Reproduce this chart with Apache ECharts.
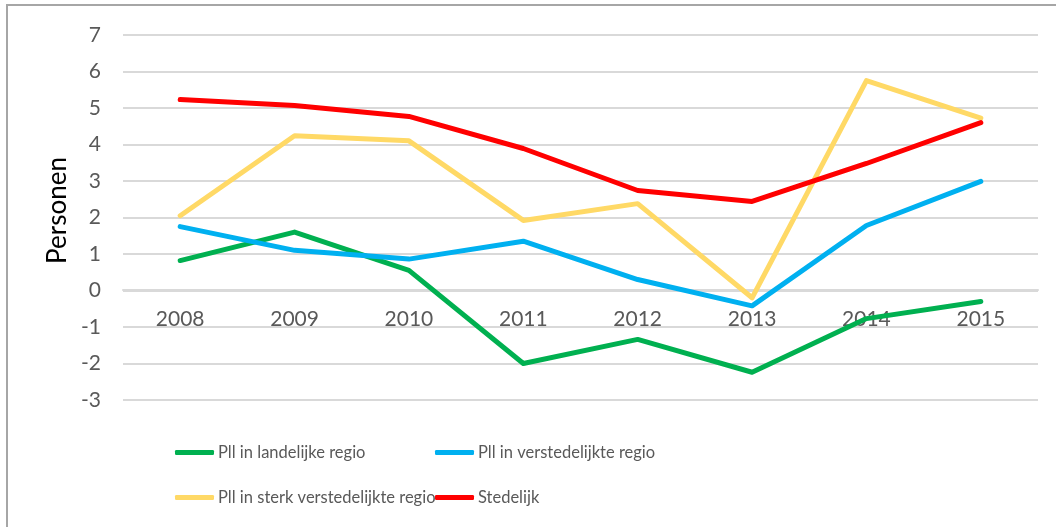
<!DOCTYPE html>
<html>
<head>
<meta charset="utf-8">
<script src="https://cdn.jsdelivr.net/npm/echarts@6/dist/echarts.min.js"></script>
<style>
    html, body { margin: 0; padding: 0; background: #fff; }
    #chart { width: 1056px; height: 527px; }
</style>
</head>
<body>
<div id="chart"></div>
<script>

const years = ['2008', '2009', '2010', '2011', '2012', '2013', '2014', '2015'];

const landelijk = [0.82, 1.6, 0.55, -2.0, -1.34, -2.24, -0.77, -0.3];
const verstedelijkt = [1.75, 1.1, 0.86, 1.35, 0.3, -0.42, 1.78, 2.99];
const sterkVerstedelijkt = [2.05, 4.24, 4.1, 1.92, 2.38, -0.2, 5.75, 4.72];
const stedelijk = [5.23, 5.07, 4.77, 3.89, 2.74, 2.44, 3.48, 4.6];

const seriesNames = [
    'Pll in landelijke regio',
    'Pll in verstedelijkte regio',
    'Pll in sterk verstedelijkte regio',
    'Stedelijk',
];
const colors = ['#00B050', '#00B0F0', '#FFD966', '#FF0000'];

const font = 'Lato, "Open Sans", sans-serif';

const legendAt = (name, left, top) => ({
    data: [name],
    left: left,
    top: top,
    padding: 0,
    icon: 'roundRect',
    itemWidth: 39,
    itemHeight: 5,
    textStyle: { color: '#595959', fontSize: 16.5, fontFamily: font, padding: [0, 0, 0, -1] },
});

const chart = echarts.init(document.getElementById('chart'));

chart.setOption({
    animation: false,
    color: colors,
    graphic: [
        {
            type: 'rect',
            shape: { x: 7, y: 5, width: 1100, height: 600 },
            style: { fill: 'none', stroke: '#a6a6a6', lineWidth: 2 },
        },
    ],
    grid: { left: 123, right: 18, top: 35, bottom: 127 },
    legend: [
        legendAt(seriesNames[0], 175, 444),
        legendAt(seriesNames[1], 435, 444),
        legendAt(seriesNames[2], 175, 489),
        legendAt(seriesNames[3], 435, 489),
    ],
    xAxis: {
        type: 'category',
        data: years,
        // labels sit just under the zero line, like the original
        offset: -110,
        axisLine: { show: true, onZero: false, lineStyle: { color: '#d9d9d9', width: 2 } },
        axisTick: { show: false },
        axisLabel: { color: '#595959', fontSize: 21, fontFamily: font, margin: 19 },
    },
    yAxis: {
        type: 'value',
        min: -3,
        max: 7,
        interval: 1,
        name: 'Personen',
        nameLocation: 'middle',
        nameGap: 52,
        nameTextStyle: { color: '#000', fontSize: 26, fontFamily: font, padding: [0, 0, 0, 14] },
        axisLabel: { color: '#595959', fontSize: 21, fontFamily: font, margin: 22 },
        splitLine: { lineStyle: { color: '#d9d9d9', width: 2 } },
    },
    series: [landelijk, verstedelijkt, sterkVerstedelijkt, stedelijk].map((values, i) => ({
        name: seriesNames[i],
        type: 'line',
        data: values,
        symbol: 'none',
        lineStyle: { width: 5, cap: 'round', join: 'round' },
    })),
});

</script>
</body>
</html>
